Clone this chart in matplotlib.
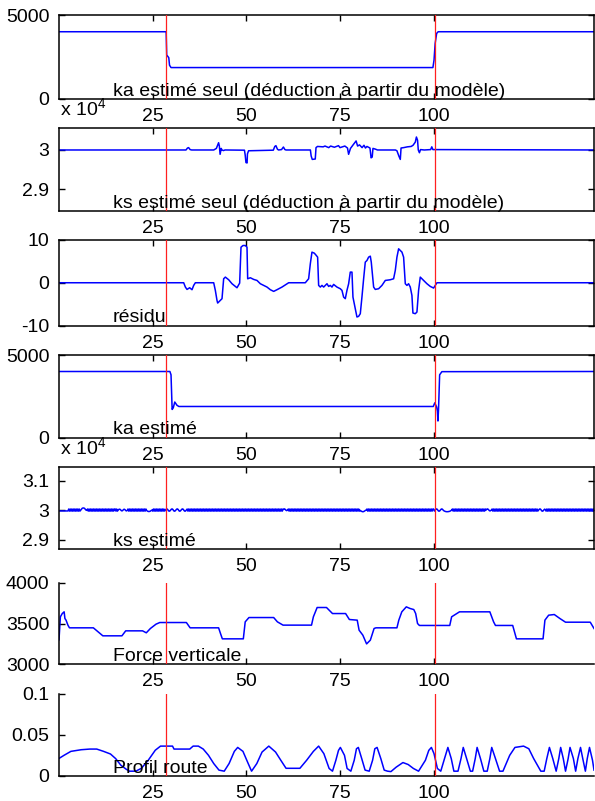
import numpy as np
import matplotlib
matplotlib.use('Agg')
import matplotlib.pyplot as plt
from matplotlib.ticker import FixedLocator, FixedFormatter
from matplotlib.transforms import ScaledTranslation

plt.rcParams['font.family'] = ['Liberation Sans', 'DejaVu Sans']
plt.rcParams['mathtext.fontset'] = 'custom'
plt.rcParams['mathtext.rm'] = 'Liberation Sans'

# ---------------- data ----------------
x_ticks = [25, 50, 75, 100]
x_tick_labels = ['25', '50', '75', '100']
x_lim = (0, 142.8)
red_lines = [28.5, 100.3]

titles = ["ka estimé seul (déduction à partir du modèle)",
          "ks estimé seul (déduction à partir du modèle)",
          "résidu", "ka estimé", "ks estimé",
          "Force verticale", "Profil route"]

# panel 1 : ka estimé seul
ka_seul_t = [0, 28.6, 28.75, 29.3, 29.5, 29.9, 99.8, 100.1, 100.4, 100.8, 101.2, 142.8]
ka_seul_v = [4000, 4000, 2610, 2450, 2000, 1860, 1860, 2300, 3300, 3900, 4000, 4000]

# panel 2 : ks estimé seul
ks_seul_t = [0, 33.9, 34.3, 34.6, 35.0, 35.4,
             41.3, 42.0, 42.6, 42.8, 43.0, 43.3, 43.5, 43.9, 44.3,
             49.5, 49.7, 49.9, 50.2, 50.3, 50.6, 57.2, 57.6, 57.9, 58.3, 58.6,
             59.4, 59.9, 60.3, 60.6,
             67.1, 67.3, 67.6, 68.4, 68.6, 69.0, 70.5, 71.0, 72.0, 72.5, 73.5,
             74.6, 75.0, 76.3, 77.0, 77.3, 77.8, 78.5, 79.3, 79.7, 80.2, 80.9,
             81.4, 81.8, 82.2, 83.0, 83.3, 83.6, 83.8, 84.5, 85.0, 89.8, 90.2,
             90.7, 91.1, 91.3, 92.0, 93.0, 94.0, 94.5, 95.1, 95.4, 95.7, 95.9,
             96.2, 96.5, 97.5, 99.2, 99.5, 99.8, 142.8]
ks_seul_v = [30000, 30000, 30050, 30060, 30010, 30000,
             30000, 30040, 30185, 30100, 29890, 30040, 30000, 29985, 30000,
             29995, 29870, 29680, 29670, 29900, 29980, 29995, 30090, 30110, 30020, 30000,
             30010, 30075, 30010, 30000,
             30000, 29850, 29760, 29770, 30060, 30090, 30080, 30100, 30060, 30100, 30070,
             30110, 30060, 30100, 30050, 29890, 30040, 30130, 30230, 30100, 30130, 30060,
             30120, 30050, 30090, 30050, 29800, 29820, 30040, 30020, 30000, 30000, 29980,
             29850, 29760, 30050, 30060, 30080, 30090, 30120, 30200, 30330, 30250, 30000,
             29930, 30010, 30000, 30010, 30080, 30010, 30000]

# panel 3 : résidu
res_t = [0, 33.28, 33.73, 34.17, 34.88, 35.50, 35.95, 36.39, 41.29, 41.73, 42.17,
         42.35, 43.06, 43.51, 43.95, 44.40, 45.29, 46.18, 47.51, 48.22, 48.58, 49.11,
         49.73, 50.18, 50.36, 51.07, 51.96, 52.85, 53.74, 54.63, 55.52, 56.41, 57.30,
         58.18, 59.52, 61.30, 65.74, 66.63, 67.08, 67.52, 68.15, 68.68, 69.03, 69.30,
         69.75, 70.19, 70.64, 71.53, 71.97, 72.41, 72.86, 73.30, 74.19, 75.08, 75.53,
         75.97, 76.42, 76.86, 77.31, 77.75, 78.20, 78.46, 79.08, 79.53, 79.97, 80.42,
         80.86, 81.31, 81.75, 82.20, 82.64, 83.09, 83.35, 83.98, 84.42, 85.31, 86.20,
         87.09, 88.42, 89.31, 89.76, 90.20, 90.65, 91.54, 91.98, 92.43, 92.87, 93.31,
         93.76, 94.20, 94.47, 95.09, 95.54, 95.98, 96.43, 97.32, 98.21, 99.10, 99.99,
         100.43, 100.88, 142.8]
res_v = [0, 0, -1.01, -1.56, -1.17, -1.63, -0.62, 0, 0, -1.79, -4.12,
         -4.75, -4.12, -3.73, 0.93, 1.32, 0.70, -0.23, -1.17, -0.08, 8.32, 8.71,
         8.71, 8.32, 0.93, 1.17, 0.78, 0.54, -0.23, -0.62, -1.01, -1.63, -2.02,
         -1.63, -1.01, 0, 0, 0.93, 4.43, 7.16, 6.92, 6.38, 5.99, -0.62,
         -1.01, -0.62, -1.01, -0.23, -0.86, -0.62, -1.01, -0.39, -1.01, -1.40, -1.79,
         -3.35, -3.73, -1.79, -0.23, 2.49, 2.49, -3.35, -6.07, -8.01, -7.86, -7.24,
         -3.35, 0.93, 4.82, 5.21, 5.99, 6.22, 4.82, -1.01, -1.56, -1.40, -0.62,
         0.54, 0.70, 0.93, 2.88, 5.99, 7.94, 7.16, 5.99, -0.23, -0.62, -0.23,
         -1.01, -2.96, -7.08, -7.24, -6.85, -1.79, 1.32, 0.54, -0.23, -0.86, -1.24,
         -0.62, 0, 0]

# panel 4 : ka estimé
ka_t = [0, 29.6, 29.9, 30.2, 30.5, 30.9, 31.5, 32.0, 99.9, 100.3, 100.8, 101.0,
        101.15, 101.3, 101.6, 102.2, 142.8]
ka_v = [4000, 4000, 3800, 1700, 1800, 2150, 1950, 1880, 1880, 2100, 1850, 1600,
        1000, 1700, 3800, 3990, 4000]

# panel 5 : ks estimé (sampled every 0.2, deviation from 30000)
ks_est_step = 0.2
ks_est_base = 30000
ks_est_dev = [
    -30, -30, -30, -30, -30, -30, -30, -30, -30, -30, -30, -30, -30, 35, -35, 35, -35, 35, -35, 35, -35, 35, -35, 35, -35,
    35, -35, 35, -35, 0, 30, 60, 70, 70, 60, 30, 0, -10, 35, -35, 35, -35, 35, -35, 35, -35, 35, -35, 35, -35,
    35, -35, 35, -35, 35, -35, 35, -35, 35, -35, 35, -35, 35, -35, 35, -35, 35, -35, 35, -35, 35, -35, 35, -35, 35,
    35, -35, 35, -35, 0, 25, 30, 15, -15, -30, -15, 15, 30, 15, -15, -30, -15, 35, -35, 35, -35, 35, -35, 35, -35,
    35, -35, 35, -35, 35, -35, 35, -35, 35, -35, 35, -35, 35, -35, 35, -35, 35, -15, -35, -45, -50, -45, -35, -15, 0,
    -35, 35, -35, 35, -35, 35, -35, 35, -35, 35, -35, 35, -35, 35, -35, 35, -35, 0, 30, 40, 20, -20, -40, -30, 0,
    30, 40, 20, -20, -40, -30, 0, 30, 40, 20, -20, -40, -30, 0, 30, 40, 20, -20, -40, -30, 0, 35, -35, 35, -35,
    35, -35, 35, -35, 35, -35, 35, -35, 35, -35, 35, -35, 35, -35, 35, -35, 35, -35, 35, -35, 35, -35, 35, -35, 35,
    -35, 35, -35, 35, -35, 35, -35, 35, -35, 35, -35, 35, -35, 35, -35, 35, -35, 35, -35, 35, -35, 35, -35, 35, -35,
    35, -35, 35, -35, 35, -35, 35, -35, 35, -35, 35, -35, 35, -35, 35, -35, 35, -35, 35, -35, 35, -35, 35, -35, 35,
    -35, 35, -35, 35, -35, 35, -35, 35, -35, 35, -35, 35, -35, 35, -35, 35, -35, 35, -35, 35, -35, 35, -35, 35, -35,
    35, -35, 35, -35, 35, -35, 35, -35, 35, -35, 35, -35, 35, -35, 35, -35, 35, -35, 35, -35, 35, -35, 35, -35, 35,
    20, 40, 20, -10, -20, 0, 35, -35, 35, -35, 35, -35, 35, -35, 35, -35, 35, -35, 35, -35, 35, -35, 35, -35, 35,
    -35, 35, -35, 35, -35, 35, -35, 35, -35, 35, -35, 35, -35, 35, -35, 35, -35, 35, -35, 35, -35, 35, -35, 35, -35,
    35, -35, 35, -35, 35, -35, 35, -35, 35, -35, 35, -35, 35, -35, 35, -35, 35, -35, 35, -35, 35, -35, 35, -35, 35,
    -35, 35, -35, 35, -35, 35, -35, 35, -35, 35, -35, 35, -35, 35, -35, 35, -35, 35, -35, 35, -35, 35, -35, 35, -35,
    35, -35, -10, -30, -45, -55, -55, -45, -30, -10, 0, 35, -35, 35, -35, 35, -35, 35, -35, 35, -35, 35, -35, 35, -35,
    35, -35, 35, -35, 35, -35, 35, -35, 35, -35, 35, -35, 35, -35, 35, -35, 35, -35, 35, -35, 35, -35, 35, -35, 35,
    -35, 35, -35, 35, -35, 35, -35, 35, -35, 35, -35, 35, -35, 35, -35, 35, -35, 35, -35, 35, -35, 35, -35, 35, -35,
    35, -35, 35, -35, 35, -35, 35, -35, 35, -35, 35, -35, 35, -35, 35, -35, 35, -35, 35, -35, 35, -35, 35, -35, 35,
    35, -35, 0, 30, 40, 20, -20, -40, -30, 0, 30, 40, 20, -10, -30, -40, -50, -55, -55, -55, -50, -45, -35, -20, 0,
    35, -35, 35, -35, 35, -35, 35, -35, 35, -35, 35, -35, 35, -35, 35, -35, 35, -35, 35, -35, 35, -35, 35, -35, 35,
    -35, 35, -35, 35, -35, 35, -35, 35, -35, 35, -35, 35, -35, 35, -35, 35, -35, 35, -35, 35, 0, 30, 40, 20, -10,
    -30, -20, 0, 35, -35, 35, -35, 35, -35, 35, -35, 35, -35, 35, -35, 35, -35, 35, -35, 35, -35, 35, -35, 35, -35,
    35, -35, 35, -35, 35, -35, 35, -35, 35, -35, 35, -35, 35, -35, 35, -35, 35, -35, 35, -35, 35, -35, 35, -35, 35,
    -35, 35, -35, 35, -35, 35, -35, 35, -35, 35, -35, 35, -35, 35, -35, 0, 30, 40, 20, -20, -40, -30, 0, 30, 20,
    -35, 35, -35, 35, -35, 35, -35, 35, -35, 35, -35, 35, -35, 35, -35, 35, -35, 35, -35, 35, -35, 35, -35, 35, -35,
    35, -35, 35, -35, 35, -35, 35, -35, 35, -35, 35, -35, 35, -35, 35, -35, 35, -35, 35, -35, 35, -35, 35, -35, 35,
    -35, 35, -35, 35, -35, 35, -35, 35, -35, 35, -35, 35, -35, 35, -35,
]

# panel 6 : Force verticale
fv_t = [0, 0.37, 0.87, 1.37, 1.58, 1.88, 2.38, 2.79, 9.17, 11.7, 16.8, 17.8, 22.3,
        23.3, 24.4, 25.9, 26.9, 34.0, 35.0, 42.6, 43.1, 43.6, 49.2, 49.7, 50.7,
        57.3, 58.3, 59.8, 67.4, 67.9, 68.9, 71.4, 73.0, 76.5, 77.5, 79.6, 80.1,
        81.1, 82.1, 83.1, 84.1, 84.6, 90.2, 90.7, 91.5, 92.7, 93.7, 94.7, 95.2,
        95.7, 96.2, 104.3, 104.8, 105.9, 106.9, 115.0, 116.0, 116.5, 121.1, 122.1,
        129.2, 129.7, 130.7, 132.2, 133.7, 135.2, 141.8, 142.8]
fv_v = [3300, 3582, 3622, 3643, 3561, 3541, 3480, 3447, 3447, 3349, 3349, 3410, 3410,
        3386, 3439, 3492, 3512, 3512, 3447, 3447, 3378, 3312, 3312, 3520, 3573,
        3573, 3520, 3480, 3480, 3582, 3696, 3696, 3622, 3622, 3549, 3541, 3418,
        3357, 3250, 3296, 3439, 3447, 3447, 3541, 3643, 3704, 3684, 3671, 3622,
        3500, 3476, 3476, 3582, 3614, 3643, 3643, 3520, 3476, 3476, 3312,
        3312, 3541, 3602, 3610, 3561, 3516, 3516, 3439]

# panel 7 : Profil route
pr_t = [0, 1.34, 3.17, 5.93, 8.23, 10.07, 11.9, 13.74, 15.12, 16.5, 17.9, 18.8,
        20.5, 22.0, 23.85, 25.7, 27.1, 30.3, 30.7, 34.9, 35.8, 37.2, 38.5, 39.9,
        41.3, 42.7, 44.1, 45.4, 46.8, 47.7, 49.1, 50.5, 51.4, 52.8, 54.2, 56.0,
        57.8, 59.2, 60.6, 64.3, 66.1, 67.9, 69.3, 70.7, 72.1, 73.0, 73.9, 74.6,
        75.1, 76.2, 76.9, 77.9, 78.8, 79.4, 79.9, 80.8, 81.7, 82.8, 83.7, 84.3,
        84.9, 85.9, 86.8, 87.7, 88.6, 90.0, 91.8, 93.2, 94.6, 95.97, 97.8, 98.7,
        99.4, 100.1, 101.0, 101.9, 102.9, 103.8, 104.7, 105.4, 106.5, 107.3, 107.9,
        108.8, 109.8, 110.4, 111.1, 111.6, 112.5, 113.4, 114.3, 115.0, 115.5, 116.5,
        117.6, 118.5, 120.3, 121.7, 124.0, 125.4, 126.7, 128.6, 129.5, 130.2, 130.9,
        131.8, 132.7, 133.4, 133.9, 134.6, 135.2, 135.9, 136.4, 137.3, 137.9, 138.5,
        139.2, 139.8, 140.5, 141.0, 141.6, 142.4, 142.8]
pr_v = [0.021, 0.0248, 0.0296, 0.0316, 0.0324, 0.0324, 0.0296, 0.0264, 0.0208, 0.0128, 0.008, 0.0055,
        0.0055, 0.009, 0.019, 0.031, 0.036, 0.036, 0.0324, 0.0324, 0.036, 0.036, 0.0324, 0.0248,
        0.0148, 0.0068, 0.0055, 0.0148, 0.0296, 0.0344, 0.0296, 0.0148, 0.0055, 0.0148, 0.0288, 0.036,
        0.0288, 0.0188, 0.009, 0.009, 0.0188, 0.0296, 0.036, 0.0268, 0.0088, 0.0055, 0.0188, 0.0308,
        0.0344, 0.0248, 0.0088, 0.0055, 0.0188, 0.0328, 0.0344, 0.0208, 0.0068, 0.0055, 0.0188, 0.0328,
        0.0344, 0.0208, 0.0068, 0.0055, 0.005, 0.0104, 0.016, 0.0136, 0.0088, 0.0055, 0.0188, 0.0308,
        0.0344, 0.0268, 0.0088, 0.0055, 0.0208, 0.0344, 0.0208, 0.0055, 0.0055, 0.0208, 0.0344,
        0.0208, 0.0055, 0.0055, 0.0208, 0.0344, 0.0208, 0.0055, 0.0055, 0.0208, 0.0344, 0.0208,
        0.0055, 0.0055, 0.0248, 0.0344, 0.036, 0.0328, 0.0208, 0.0055, 0.0055, 0.0208, 0.0344,
        0.0208, 0.0055, 0.0208, 0.0344, 0.0208, 0.0055, 0.0208, 0.0344, 0.0208, 0.0055, 0.0208,
        0.0344, 0.0208, 0.0055, 0.0208, 0.0344, 0.0188, 0.0068]

y_limits = [(0, 5000), (28455, 30567), (-10, 10), (0, 5000), (28680, 31470), (3000, 4000), (0, 0.1)]
y_ticks = [[0, 5000], [29000, 30000], [-10, 0, 10], [0, 5000], [29000, 30000, 31000],
           [3000, 3500, 4000], [0, 0.05, 0.1]]
y_tick_labels = [['0', '5000'], ['2.9', '3'], ['-10', '0', '10'], ['0', '5000'],
                 ['2.9', '3', '3.1'], ['3000', '3500', '4000'], ['0', '0.05', '0.1']]
exponent_label = 'x 10$^{\\mathregular{4}}$'

# ---------------- figure ----------------
W, H = 595, 801
fig = plt.figure(figsize=(W / 100, H / 100), dpi=100)
boxes = [(15, 98.7), (127.7, 210.7), (240, 325.5), (355, 437.5),
         (466.7, 549), (582.7, 664.3), (693.5, 775.7)]
left_px, right_px = 59, 594

ks_est_t = np.arange(len(ks_est_dev)) * ks_est_step
ks_est_v = ks_est_base + np.array(ks_est_dev)

series = [(ka_seul_t, ka_seul_v), (ks_seul_t, ks_seul_v), (res_t, res_v),
          (ka_t, ka_v), (ks_est_t, ks_est_v), (fv_t, fv_v), (pr_t, pr_v)]

FS = 14
for i, (top, bot) in enumerate(boxes):
    ax = fig.add_axes([left_px / W, 1 - bot / H, (right_px - left_px) / W, (bot - top) / H])
    t, v = series[i]
    ax.plot(t, v, color='#0000ff', lw=1.1, zorder=2)
    for r in red_lines:
        ax.axvline(r, color='#ff2020', lw=0.9, zorder=3)
    ax.set_xlim(*x_lim)
    ax.set_ylim(*y_limits[i])
    ax.xaxis.set_major_locator(FixedLocator(x_ticks))
    ax.xaxis.set_major_formatter(FixedFormatter(x_tick_labels))
    ax.yaxis.set_major_locator(FixedLocator(y_ticks[i]))
    ax.yaxis.set_major_formatter(FixedFormatter(y_tick_labels[i]))
    boxed = i < 5
    for s in ax.spines.values():
        s.set_linewidth(1.1)
    if not boxed:
        ax.spines['top'].set_visible(False)
        ax.spines['right'].set_visible(False)
    ax.tick_params(axis='both', direction='in', length=4, width=1.0,
                   labelsize=FS, top=boxed, right=boxed, colors='black')
    ax.tick_params(axis='x', pad=6.5)
    ax.tick_params(axis='y', pad=7)
    ax.text(14.3, 0, titles[i], fontsize=FS, ha='left', va='baseline',
            transform=ax.get_xaxis_transform() + ScaledTranslation(0, 0.03, fig.dpi_scale_trans),
            zorder=4)
    if i in (1, 4):
        ax.text(0, 1, exponent_label, fontsize=FS, ha='left', va='baseline',
                transform=ax.transAxes + ScaledTranslation(0.01, 0.113, fig.dpi_scale_trans))

fig.savefig('out.png', dpi=100)
